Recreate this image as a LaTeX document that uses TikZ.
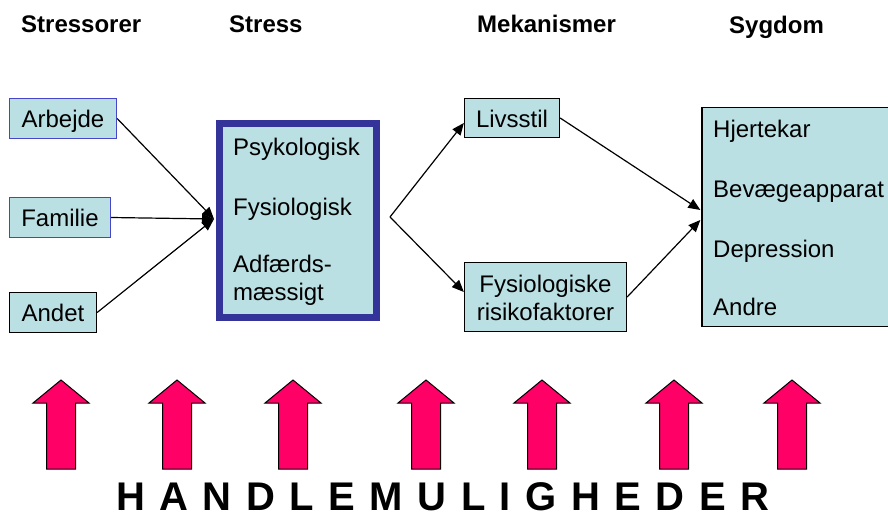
\documentclass[tikz,border=0pt]{standalone}
\usepackage{fontspec}
\setmainfont{Liberation Sans}
\usetikzlibrary{arrows.meta}
\definecolor{boxfill}{RGB}{187,224,227}
\definecolor{navy}{RGB}{51,51,153}
\definecolor{lblue}{RGB}{70,70,200}
\definecolor{pinkarrow}{RGB}{255,0,102}
\begin{document}
\begin{tikzpicture}[x=1pt,y=-1pt,
  header/.style={font=\fontsize{24}{28}\selectfont\bfseries, anchor=base west, inner sep=0},
  body/.style={font=\fontsize{24}{28}\selectfont, anchor=base west, inner sep=0},
  bodyc/.style={font=\fontsize{24}{28}\selectfont, anchor=base, inner sep=0},
  sbox/.style={draw, fill=boxfill, line width=1.3pt, inner sep=0, text height=18pt, text depth=0pt, font=\fontsize{24}{28}\selectfont},
  conn/.style={line width=1.2pt, -{Triangle[length=12pt,width=10pt]}},
  uparrow/.style={fill=pinkarrow, draw=black, line width=1pt, line join=miter}]
\clip (0,0) rectangle (888,519);
\fill[white] (0,0) rectangle (888,519);

% headers
\node[header] (h1) at (21,33) {Stressorer};
\node[header] (h2) at (229,33) {Stress};
\node[header] (h3) at (477,33) {Mekanismer};
\node[header] (h4) at (729,34) {Sygdom};

% stressor boxes
\node[sbox, draw=lblue, minimum width=107pt, minimum height=40pt] (arb) at (63,118.5) {Arbejde};
\node[sbox, draw=lblue, minimum width=101pt, minimum height=40pt] (fam) at (60,217.5) {Familie};
\node[sbox, draw=black, minimum width=87pt, minimum height=40pt] (and) at (53,312.5) {Andet};

% stress box
\node[draw=navy, fill=boxfill, line width=7pt, inner sep=0, minimum width=156.5pt, minimum height=194pt] (stress) at (297.75,220.5) {};
\node[body] (s1) at (233,155) {Psykologisk};
\node[body] (s2) at (233,215) {Fysiologisk};
\node[body] (s3) at (233,272) {Adfærds-};
\node[body] (s4) at (233,300) {mæssigt};

% mechanisms
\node[sbox, minimum width=95pt, minimum height=39pt] (livs) at (512,118) {Livsstil};
\node[sbox, minimum width=162pt, minimum height=69pt] (risk) at (545.5,297) {};
\node[bodyc] (r1) at (545.5,292) {Fysiologiske};
\node[bodyc] (r2) at (545.5,320) {risikofaktorer};

% disease box
\node[sbox, minimum width=200pt, minimum height=219pt] (syg) at (802,217) {};
\node[body] (d1) at (713,137) {Hjertekar};
\node[body] (d2) at (713,197) {Bevægeapparat};
\node[body] (d3) at (713,257) {Depression};
\node[body] (d4) at (713,315) {Andre};

% connectors
\coordinate (join) at (214,219);
\coordinate (split) at (390,217);
\draw[conn] (arb.east) -- (join);
\draw[conn] (fam.east) -- (join);
\draw[conn] (and.east) -- (join);
\draw[conn] (split) -- ([yshift=-5pt]livs.west);
\draw[conn] (split) -- ([yshift=5pt]risk.west);
\draw[conn] (livs.east) -- ([xshift=-1pt,yshift=7pt]syg.west);
\draw[conn] (risk.east) -- ([xshift=-1pt,yshift=-3pt]syg.west);

% pink arrows
\foreach \c in {61,177,293,426,542,674,792}
  \draw[uparrow] (\c-14.5,469) -- (\c-14.5,403) -- (\c-28,403) -- (\c,380) -- (\c+28,403) -- (\c+14.5,403) -- (\c+14.5,469) -- cycle;

\node[font=\fontsize{40}{44}\selectfont\bfseries, anchor=base west, inner sep=0] (handle) at (116,510)
  {H\kern14.5pt A\kern14.5pt N\kern14.5pt D\kern14.5pt L\kern14.5pt E\kern14.5pt M\kern14.5pt U\kern14.5pt L\kern14.5pt I\kern14.5pt G\kern14.5pt H\kern14.5pt E\kern14.5pt D\kern14.5pt E\kern14.5pt R};
\end{tikzpicture}
\end{document}
